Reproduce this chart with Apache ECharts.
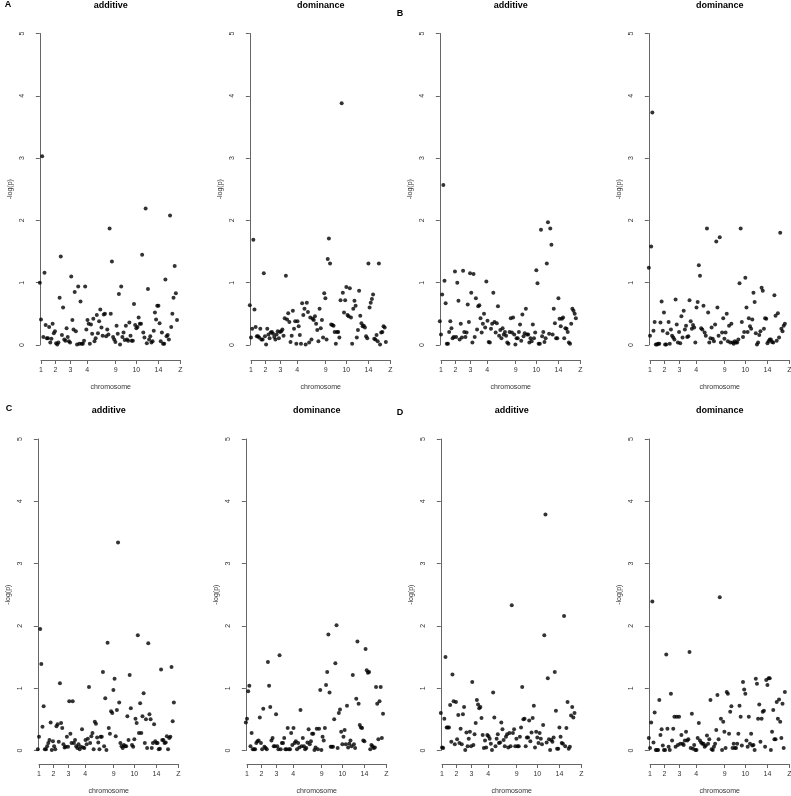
<!DOCTYPE html>
<html>
<head>
<meta charset="utf-8">
<title>additive / dominance</title>
<script src="https://cdn.jsdelivr.net/npm/echarts@6/dist/echarts.min.js"></script>
<style>
  html, body { margin: 0; padding: 0; background: #fff; }
  #chart { width: 791px; height: 796px; }
</style>
</head>
<body>
<div id="chart"></div>
<script>
// chromosome ticks (marker index where each labelled chromosome starts)
const chromLabels = ["1", "2", "3", "4", "9", "10", "14", "Z"];
const chromTicks = [1, 13.5, 26.4, 40.8, 65.3, 83, 102, 121];
const yTicks = [0, 1, 2, 3, 4, 5];

// -log(p) per marker, left to right
const aAdditive = [
  1.00, 0.41, 3.03, 0.13, 1.16, 0.32, 0.11, 0.11, 0.29, 0.04,
  0.10, 0.34, 0.19, 0.22, 0.03, 0.01, 0.04, 0.76, 1.42, 0.16,
  0.60, 0.09, 0.07, 0.27, 0.13, 0.06, 0.04, 1.10, 0.40, 0.25,
  0.85, 0.22, 0.01, 0.94, 0.02, 0.70, 0.02, 0.02, 0.07, 0.94,
  0.25, 0.40, 0.34, 0.02, 0.33, 0.18, 0.42, 0.06, 0.11, 0.48, 0.19,
  0.38, 0.57, 0.28, 0.15, 0.49, 0.50, 0.14, 0.25, 0.17, 1.87, 0.50, 1.34,
  0.13, 0.09, 0.05, 0.31, 0.18, 0.82, 0.01, 0.94, 0.13, 0.20, 0.08, 0.31,
  0.09, 0.07, 0.36, 0.15, 0.07, 0.07, 0.66, 0.32, 0.27, 0.29, 0.44, 0.34,
  0.34, 1.45, 0.20, 0.12, 2.19, 0.03, 0.90, 0.09, 0.14, 0.04, 0.06, 0.23,
  0.52, 0.41, 0.63, 0.63, 0.35, 0.06, 0.20, 0.02, 0.02, 1.05, 0.14, 0.16,
  0.09, 2.08, 0.29, 0.50, 0.76, 1.27, 0.83, 0.40
];
const aDominance = [
  0.64, 0.12, 0.26, 1.69, 0.57, 0.29, 0.14, 0.14, 0.12, 0.26,
  0.09, 0.09, 1.15, 0.14, 0.01, 0.26, 0.17, 0.11, 0.20, 0.21, 0.18, 0.13,
  0.09, 0.17, 0.22, 0.11, 0.21, 0.22, 0.25, 0.15, 0.43, 1.11,
  0.41, 0.51, 0.37, 0.05, 0.15, 0.55, 0.26, 0.38, 0.02, 0.38, 0.30, 0.16,
  0.02, 0.67, 0.48, 0.58, 0.01, 0.68, 0.53, 0.04, 0.44, 0.09,
  0.42, 0.40, 0.46, 0.34, 0.24, 0.06, 0.58, 0.27, 0.40, 0.12, 0.83,
  0.75, 0.09, 1.38, 1.71, 1.31, 0.33, 0.32, 0.31, 0.21, 0.02,
  0.21, 0.21, 0.12, 0.72, 3.88, 0.84, 0.52, 0.72, 0.93, 0.48,
  0.46, 0.91, 0.44, 0.02, 0.58, 0.71, 0.63, 0.12, 0.24, 0.87,
  0.47, 0.35, 0.30, 0.31, 0.28, 0.14, 0.11, 1.31, 0.60, 0.68, 0.74,
  0.81, 0.10, 0.09, 0.16, 0.06, 1.31, 0.01, 0.20, 0.21, 0.30, 0.28,
  0.05
];
const bAdditive = [
  0.38, 0.17, 0.81, 2.57, 1.03, 0.67, 0.02, 0.02, 0.21, 0.38,
  0.27, 0.11, 0.13, 1.18, 0.13, 1.00, 0.71, 0.09, 0.34, 0.12,
  1.19, 0.21, 0.13, 0.20, 0.65, 0.37, 1.15, 0.84, 0.04, 1.14,
  0.13, 0.75, 0.25, 0.62, 0.64, 0.43, 0.20, 0.34, 0.50, 0.28,
  1.02, 0.39, 0.05, 0.04, 0.26, 0.34, 0.84, 0.37, 0.20, 0.35,
  0.62, 0.15, 0.24, 0.11, 0.27, 0.17, 0.21, 0.15, 0.04, 0.02, 0.21,
  0.43, 0.20, 0.44, 0.17, 0.01, 0.11, 0.11, 0.21, 0.33, 0.07,
  0.49, 0.14, 0.19, 0.58, 0.17, 0.17, 0.04, 0.11, 0.06, 0.33, 0.11,
  0.20, 1.20, 0.99, 0.02, 0.02, 1.85, 0.14, 0.21, 0.05, 0.11,
  1.31, 1.97, 0.18, 1.87, 1.61, 0.17, 0.58, 0.35, 0.11, 0.11,
  0.75, 0.42, 0.30, 0.42, 0.44, 0.11, 0.27, 0.26, 0.21, 0.04, 0.02,
  0.34, 0.58, 0.55, 0.50, 0.43
];
const bDominance = [
  1.24, 0.15, 1.58, 3.73, 0.23, 0.37, 0.01, 0.01, 0.02, 0.02,
  0.36, 0.70, 0.23, 0.52, 0.01, 0.01, 0.19, 0.37, 0.02, 0.25,
  0.15, 0.12, 0.09, 0.73, 0.33, 0.04, 0.21, 0.03, 0.46, 0.12, 0.55,
  0.25, 0.31, 0.13, 0.14, 0.72, 0.38, 0.26, 0.32, 0.28, 0.04,
  0.60, 0.69, 1.28, 1.11, 0.27, 0.25, 0.63, 0.20, 0.15, 1.87,
  0.52, 0.04, 0.11, 0.28, 0.10, 0.06, 0.33, 1.66, 0.60, 0.15,
  1.73, 0.04, 0.20, 0.43, 0.10, 0.20, 0.50, 0.06, 0.31, 0.04,
  0.34, 0.04, 0.02, 0.06, 0.04, 0.04, 0.09, 0.99, 1.87, 0.37, 0.13,
  0.21, 1.08, 0.60, 0.21, 0.43, 0.30, 0.26, 0.41, 0.84, 0.69, 0.19,
  0.01, 0.04, 0.16, 0.22, 0.92, 0.87, 0.26, 0.43, 0.42, 0.03,
  0.06, 0.09, 0.09, 0.05, 0.04, 0.80, 0.47, 0.07, 0.51, 0.12, 1.80,
  0.26, 0.22, 0.31, 0.34
];
const cAdditive = [
  0.02, 0.22, 1.95, 1.39, 0.38, 0.71, 0.02, 0.02, 0.07, 0.12,
  0.17, 0.45, 0.01, 0.15, 0.07, 0.02, 0.39, 0.42, 0.14, 1.08,
  0.44, 0.36, 0.10, 0.05, 0.06, 0.22, 0.06, 0.79, 0.27, 0.12,
  0.79, 0.12, 0.17, 0.07, 0.04, 0.10, 0.02, 0.06, 0.34, 0.05,
  0.04, 0.17, 0.10, 0.19, 1.02, 0.12, 0.23, 0.28, 0.02, 0.46,
  0.43, 0.21, 0.13, 0.02, 0.22, 0.22, 1.26, 0.07, 0.84, 0.01,
  1.73, 0.36, 0.27, 0.63, 0.60, 0.97, 1.15, 0.23, 0.65, 3.34,
  0.77, 0.12, 0.07, 0.04, 0.09, 0.07, 0.07, 0.55, 0.17, 1.21, 0.68,
  0.09, 0.06, 0.18, 0.51, 0.44, 1.85, 0.28, 0.76, 0.28, 0.55,
  0.92, 0.12, 0.50, 0.04, 1.72, 0.58, 0.50, 0.04, 0.12, 0.42, 0.15,
  0.12, 0.12, 0.02, 0.03, 1.30, 0.17, 0.17, 0.12, 0.13, 0.23, 0.02, 0.20,
  0.22, 1.34, 0.47, 0.77
];
const cDominance = [
  0.45, 0.51, 0.95, 1.04, 0.07, 0.28, 0.02, 0.02, 0.02, 0.12,
  0.15, 0.16, 0.53, 0.12, 0.02, 0.67, 0.06, 0.04, 0.02, 1.42,
  1.04, 0.70, 0.16, 0.20, 0.07, 0.07, 0.58, 0.07, 0.02, 1.53,
  0.02, 0.12, 0.12, 0.20, 0.02, 0.02, 0.36, 0.02, 0.02, 0.28, 0.09,
  0.36, 0.12, 0.15, 0.02, 0.12, 0.05, 0.65, 0.07, 0.20, 0.07,
  0.02, 0.04, 0.13, 0.34, 0.10, 0.15, 0.27, 0.27, 0.01, 0.05, 0.35, 0.02,
  0.35, 0.97, 0.01, 0.22, 0.16, 0.36, 1.05, 1.26, 1.86, 0.93,
  0.06, 0.06, 0.06, 0.50, 1.40, 2.01, 0.04, 0.60, 0.66, 0.30,
  0.10, 0.22, 0.33, 0.10, 0.72, 0.05, 0.11, 0.16, 0.07, 1.21, 0.10, 0.04,
  0.83, 1.75, 0.75, 0.41, 0.37, 0.36, 0.16, 0.15, 1.63, 1.29,
  1.25, 1.26, 0.02, 0.09, 0.07, 0.04, 0.05, 1.02, 0.75, 0.18, 0.79,
  1.02, 0.20, 0.59
];
const dAdditive = [
  0.60, 0.05, 0.04, 0.51, 1.50, 0.37, 0.37, 0.37, 0.73, 0.14,
  1.22, 0.79, 0.10, 0.78, 0.18, 0.57, 0.12, 0.35, 0.10, 0.58,
  0.70, 0.01, 0.29, 0.07, 0.19, 0.30, 0.07, 1.10, 0.09, 0.26,
  0.44, 0.81, 0.74, 0.68, 0.70, 0.52, 0.25, 0.04, 0.16, 0.05, 0.25,
  0.23, 0.19, 0.11, 0.01, 0.93, 0.53, 0.07, 0.19, 0.26, 0.12, 0.13, 0.45,
  0.34, 0.17, 0.07, 0.22, 0.26, 0.05, 0.28, 0.07, 2.33, 0.28, 0.34, 0.07,
  0.19, 0.07, 0.07, 0.22, 0.37, 1.02, 0.50, 0.51, 0.07, 0.21,
  0.21, 0.48, 0.15, 0.29, 0.52, 0.72, 0.05, 0.30, 0.21, 0.12, 0.28, 0.19, 0.10,
  0.41, 1.85, 3.79, 0.13, 1.16, 0.18, 0.01, 0.17, 0.14, 0.21,
  1.26, 0.64, 0.03, 0.03, 0.37, 0.22, 0.12, 0.11, 2.16, 0.07,
  0.36, 0.78, 0.03, 0.06, 0.56, 0.70, 0.53, 0.60
];
const dDominance = [
  0.20, 0.04, 0.45, 2.39, 0.13, 0.61, 0.01, 0.01, 0.01, 0.81,
  0.25, 0.34, 0.08, 0.01, 0.01, 1.54, 0.35, 0.06, 0.01, 0.91,
  0.16, 0.35, 0.54, 0.06, 0.54, 0.09, 0.54, 0.11, 0.25, 0.11,
  0.09, 0.16, 0.30, 0.16, 0.18, 1.58, 0.04, 0.59, 0.03, 0.09,
  0.01, 0.01, 0.20, 0.44, 0.16, 0.13, 0.11, 0.11, 0.06, 0.08, 0.24, 0.11,
  0.18, 0.81, 0.02, 0.01, 0.06, 0.11, 0.33, 0.89, 0.18, 2.46,
  0.51, 0.01, 0.46, 0.30, 0.04, 0.94, 0.91, 0.27, 0.62, 0.71,
  0.04, 0.11, 0.04, 0.04, 0.11, 0.27, 0.72, 0.54, 0.08, 1.10,
  0.98, 0.91, 0.16, 0.06, 0.54, 0.11, 0.27, 0.08, 0.09, 0.01,
  1.15, 1.07, 0.51, 0.74, 0.14, 0.51, 0.62, 0.64, 0.06, 1.13,
  1.05, 1.16, 1.16, 0.01, 0.30, 0.65, 0.18, 0.18, 0.78, 0.51, 0.82,
  0.46, 0.20, 0.75, 0.04, 0.94
];

const chart = echarts.init(document.getElementById("chart"));

const FONT = '"Liberation Sans", Arial, sans-serif';
const AXIS_COLOR = "#666";
const TEXT_COLOR = "#333";

// layout of the 2 rows (pixels)
const rows = [
  { top: 33.5, zero: 345, xLine: 360, title: 6 },
  { top: 439, zero: 750.5, xLine: 764, title: 411 }
];
const panels = [
  { letter: "A", model: "additive", values: aAdditive, axisX: 33, row: 0, letterX: 8, letterY: 5 },
  { model: "dominance", values: aDominance, axisX: 243, row: 0 },
  { letter: "B", model: "additive", values: bAdditive, axisX: 433, row: 0, letterX: 400, letterY: 14 },
  { model: "dominance", values: bDominance, axisX: 642, row: 0 },
  { letter: "C", model: "additive", values: cAdditive, axisX: 31, row: 1, letterX: 9, letterY: 409 },
  { model: "dominance", values: cDominance, axisX: 239, row: 1 },
  { letter: "D", model: "additive", values: dAdditive, axisX: 434, row: 1, letterX: 400, letterY: 413 },
  { model: "dominance", values: dDominance, axisX: 642, row: 1 }
];

const TICK_OFFSET = 8;     // first chromosome tick right of the y axis
const TICK_SPAN = 139.5;   // pixels from tick "1" to tick "Z"
const RIGHT_PAD = 6;
const idxMin = chromTicks[0];
const idxMax = chromTicks[chromTicks.length - 1];
const pxPerIdx = TICK_SPAN / (idxMax - idxMin);

const grid = [], xAxis = [], yAxis = [], series = [], graphic = [];

panels.forEach((p, i) => {
  const r = rows[p.row];
  const tick1 = p.axisX + TICK_OFFSET;
  const mid = tick1 + TICK_SPAN / 2;

  // plotting area: y axis 0..5
  grid.push({
    left: p.axisX, top: r.top,
    width: TICK_OFFSET + TICK_SPAN + RIGHT_PAD, height: r.zero - r.top,
    containLabel: false, outerBoundsMode: "none"
  });
  xAxis.push({
    gridIndex: 2 * i, type: "value", show: false,
    min: idxMin - TICK_OFFSET / pxPerIdx,
    max: idxMax + RIGHT_PAD / pxPerIdx
  });
  yAxis.push({
    gridIndex: 2 * i, type: "value", min: 0, max: 5, interval: 1,
    name: "-log(p)", nameLocation: "middle", nameRotate: 90, nameGap: 19,
    nameTextStyle: { fontFamily: FONT, fontSize: 7, color: TEXT_COLOR },
    axisLine: { show: true, lineStyle: { color: AXIS_COLOR, width: 1 } },
    axisTick: { show: true, length: 4, lineStyle: { color: AXIS_COLOR } },
    axisLabel: { rotate: 90, margin: 7, fontFamily: FONT, fontSize: 7, color: TEXT_COLOR,
      customValues: yTicks },
    splitLine: { show: false }
  });

  // separate x axis line, spanning tick "1" to tick "Z" like base R
  grid.push({
    left: tick1, top: r.xLine - 10, width: TICK_SPAN, height: 10,
    containLabel: false, outerBoundsMode: "none"
  });
  xAxis.push({
    gridIndex: 2 * i + 1, type: "value", min: idxMin, max: idxMax, position: "bottom",
    name: "chromosome", nameLocation: "middle", nameGap: 24,
    nameTextStyle: { fontFamily: FONT, fontSize: 7, color: TEXT_COLOR },
    axisLine: { show: true, lineStyle: { color: AXIS_COLOR, width: 1 } },
    axisTick: { show: true, length: 4, customValues: chromTicks, lineStyle: { color: AXIS_COLOR } },
    axisLabel: {
      customValues: chromTicks, margin: 7, fontFamily: FONT, fontSize: 7, color: TEXT_COLOR,
      formatter: (v) => chromLabels[chromTicks.indexOf(v)]
    },
    splitLine: { show: false }
  });
  yAxis.push({ gridIndex: 2 * i + 1, type: "value", show: false, min: 0, max: 1 });

  series.push({
    type: "scatter",
    xAxisIndex: 2 * i, yAxisIndex: 2 * i,
    data: p.values.map((v, k) => [k, v]),
    symbol: "circle", symbolSize: 4,
    itemStyle: { color: "#000" },
    silent: true
  });

  graphic.push({
    type: "text", x: mid, y: r.title,
    style: { text: p.model, font: "bold 9px " + FONT, fill: "#000",
      textAlign: "center", textVerticalAlign: "middle" }
  });
  if (p.letter) {
    graphic.push({
      type: "text", x: p.letterX, y: p.letterY,
      style: { text: p.letter, font: "bold 9px " + FONT, fill: "#000",
        textAlign: "center", textVerticalAlign: "middle" }
    });
  }
});

chart.setOption({
  animation: false,
  backgroundColor: "#fff",
  grid, xAxis, yAxis, series, graphic
});

window.addEventListener("resize", () => chart.resize());
</script>
</body>
</html>
